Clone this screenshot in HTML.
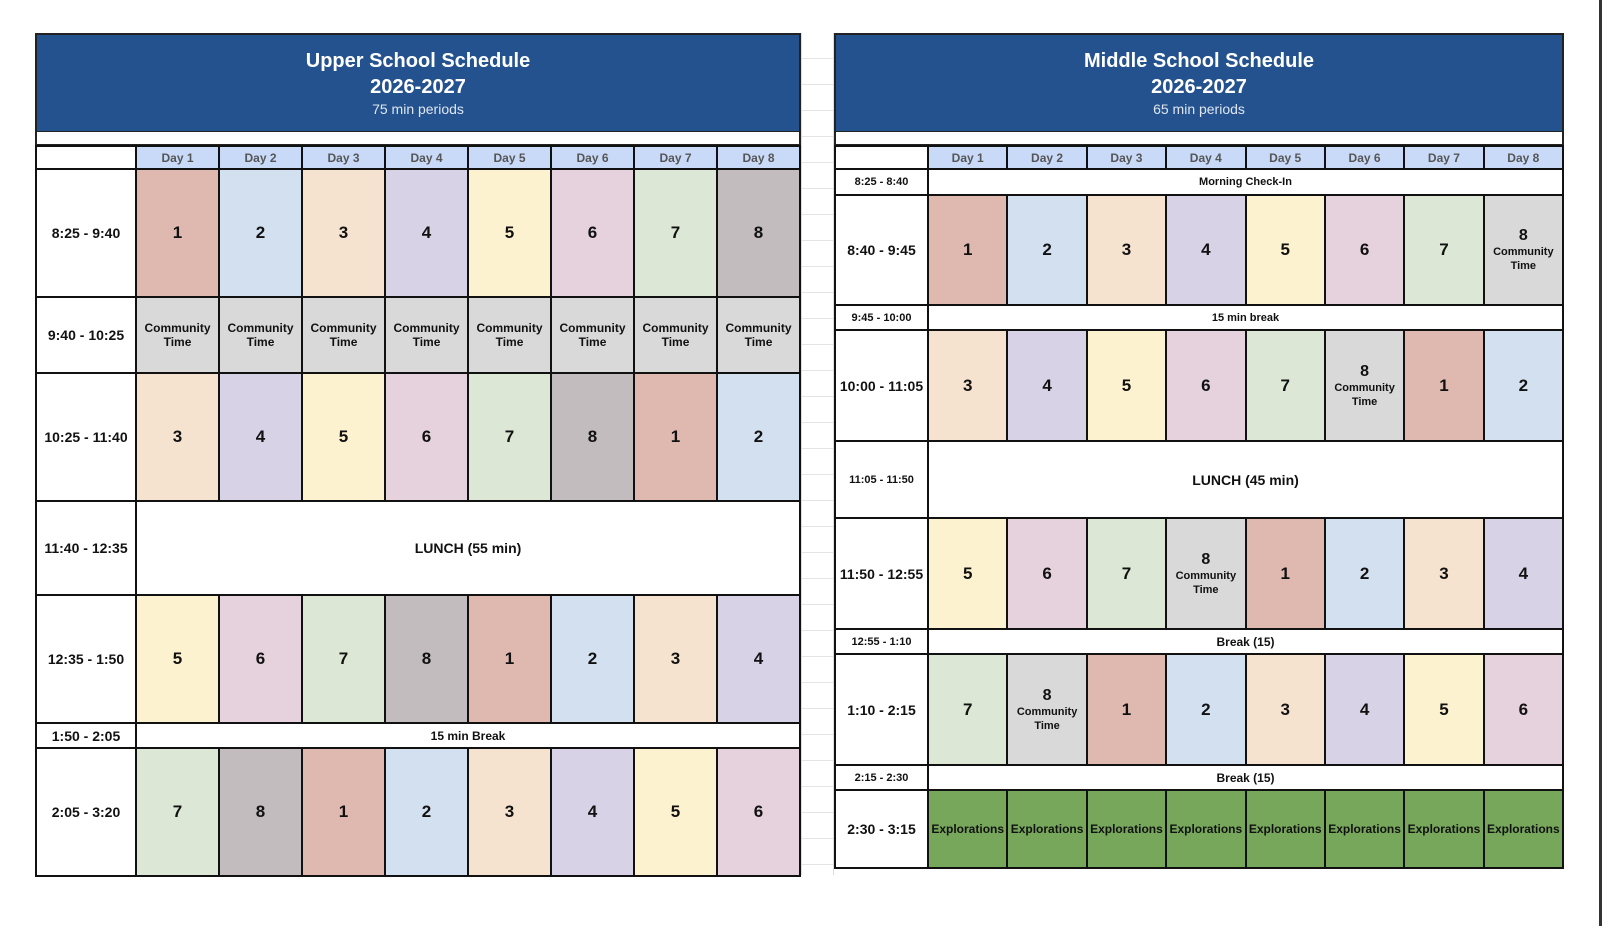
<!DOCTYPE html>
<html><head><meta charset="utf-8"><style>
*{box-sizing:border-box;margin:0;padding:0}
body{width:1602px;height:926px;background:#fff;position:relative;overflow:hidden;font-family:"Liberation Sans",Arial,sans-serif}
.gap{position:absolute;left:801px;top:33px;width:33px;height:842px;background:repeating-linear-gradient(to bottom,#fff 0,#fff 25px,#e4e4e4 25px,#e4e4e4 26px);border-left:1px solid #ddd;border-right:1px solid #ddd}
.hdr{position:absolute;top:33px;height:100px;background:#24528f;border:2px solid #222;color:#fff;text-align:center}
.hdr .t{font-weight:bold;font-size:20px;line-height:26px;margin-top:13px}
.hdr .s{font-size:14px;line-height:18px;color:#dfe6f0}
.strip{position:absolute;top:132px;height:14px;border:2px solid #222;border-top:none;background:#fff}
table{position:absolute;border-collapse:collapse;table-layout:fixed}
td{border:2px solid #111;text-align:center;vertical-align:middle;font-weight:bold;color:#111;padding:0}
td.d{background:#c9daf8;color:#555;font-size:12px}
td.tm{font-size:14px;background:#fff}
td.sm{font-size:11px}
td.n{font-size:17px}
td.ct{font-size:12px;line-height:14px}
td.w{background:#fff;font-size:14px}
td.ws{background:#fff;font-size:12px}
.r{background:#dfb9b0}.b{background:#d3e0f0}.p{background:#f6e3cf}.l{background:#d8d2e6}.y{background:#fdf2cf}.k{background:#e6d2dd}.g{background:#dce8d5}.e{background:#c2bcbf}.c{background:#d9d9d9}.x{background:#77a75b;font-size:12px}
.cc{font-size:11px;line-height:14px}
.cc b{font-size:16px;display:block;line-height:18px}
</style></head><body>
<div class="gap"></div>

<div class="hdr" style="left:35px;width:766px"><div class="t">Upper School Schedule<br>2026-2027</div><div class="s">75 min periods</div></div>
<div class="strip" style="left:35px;width:766px"></div>
<table style="left:35px;top:145px;width:766px">
<colgroup><col style="width:100px"><col span="8"></colgroup>
<tr style="height:23px"><td style="background:#fff"></td><td class="d">Day 1</td><td class="d">Day 2</td><td class="d">Day 3</td><td class="d">Day 4</td><td class="d">Day 5</td><td class="d">Day 6</td><td class="d">Day 7</td><td class="d">Day 8</td></tr>
<tr style="height:128px"><td class="tm">8:25 - 9:40</td><td class="n r">1</td><td class="n b">2</td><td class="n p">3</td><td class="n l">4</td><td class="n y">5</td><td class="n k">6</td><td class="n g">7</td><td class="n e">8</td></tr>
<tr style="height:76px"><td class="tm">9:40 - 10:25</td><td class="ct c">Community<br>Time</td><td class="ct c">Community<br>Time</td><td class="ct c">Community<br>Time</td><td class="ct c">Community<br>Time</td><td class="ct c">Community<br>Time</td><td class="ct c">Community<br>Time</td><td class="ct c">Community<br>Time</td><td class="ct c">Community<br>Time</td></tr>
<tr style="height:128px"><td class="tm">10:25 - 11:40</td><td class="n p">3</td><td class="n l">4</td><td class="n y">5</td><td class="n k">6</td><td class="n g">7</td><td class="n e">8</td><td class="n r">1</td><td class="n b">2</td></tr>
<tr style="height:94px"><td class="tm">11:40 - 12:35</td><td class="w" colspan="8">LUNCH (55 min)</td></tr>
<tr style="height:128px"><td class="tm">12:35 - 1:50</td><td class="n y">5</td><td class="n k">6</td><td class="n g">7</td><td class="n e">8</td><td class="n r">1</td><td class="n b">2</td><td class="n p">3</td><td class="n l">4</td></tr>
<tr style="height:25px"><td class="tm">1:50 - 2:05</td><td class="ws" colspan="8">15 min Break</td></tr>
<tr style="height:128px"><td class="tm">2:05 - 3:20</td><td class="n g">7</td><td class="n e">8</td><td class="n r">1</td><td class="n b">2</td><td class="n p">3</td><td class="n l">4</td><td class="n y">5</td><td class="n k">6</td></tr>
</table>

<div class="hdr" style="left:834px;width:730px"><div class="t">Middle School Schedule<br>2026-2027</div><div class="s">65 min periods</div></div>
<div class="strip" style="left:834px;width:730px"></div>
<table style="left:834px;top:145px;width:730px">
<colgroup><col style="width:93px"><col span="8"></colgroup>
<tr style="height:23px"><td style="background:#fff"></td><td class="d">Day 1</td><td class="d">Day 2</td><td class="d">Day 3</td><td class="d">Day 4</td><td class="d">Day 5</td><td class="d">Day 6</td><td class="d">Day 7</td><td class="d">Day 8</td></tr>
<tr style="height:26px"><td class="sm">8:25 - 8:40</td><td class="ws" colspan="8" style="font-size:11px">Morning Check-In</td></tr>
<tr style="height:110px"><td class="tm">8:40 - 9:45</td><td class="n r">1</td><td class="n b">2</td><td class="n p">3</td><td class="n l">4</td><td class="n y">5</td><td class="n k">6</td><td class="n g">7</td><td class="cc c"><b>8</b>Community<br>Time</td></tr>
<tr style="height:25px"><td class="sm">9:45 - 10:00</td><td class="ws" colspan="8" style="font-size:11px">15 min break</td></tr>
<tr style="height:111px"><td class="tm">10:00 - 11:05</td><td class="n p">3</td><td class="n l">4</td><td class="n y">5</td><td class="n k">6</td><td class="n g">7</td><td class="cc c"><b>8</b>Community<br>Time</td><td class="n r">1</td><td class="n b">2</td></tr>
<tr style="height:77px"><td class="sm">11:05 - 11:50</td><td class="w" colspan="8">LUNCH (45 min)</td></tr>
<tr style="height:111px"><td class="tm">11:50 - 12:55</td><td class="n y">5</td><td class="n k">6</td><td class="n g">7</td><td class="cc c"><b>8</b>Community<br>Time</td><td class="n r">1</td><td class="n b">2</td><td class="n p">3</td><td class="n l">4</td></tr>
<tr style="height:25px"><td class="sm">12:55 - 1:10</td><td class="ws" colspan="8">Break (15)</td></tr>
<tr style="height:111px"><td class="tm">1:10 - 2:15</td><td class="n g">7</td><td class="cc c"><b>8</b>Community<br>Time</td><td class="n r">1</td><td class="n b">2</td><td class="n p">3</td><td class="n l">4</td><td class="n y">5</td><td class="n k">6</td></tr>
<tr style="height:25px"><td class="sm">2:15 - 2:30</td><td class="ws" colspan="8">Break (15)</td></tr>
<tr style="height:78px"><td class="tm">2:30 - 3:15</td><td class="x">Explorations</td><td class="x">Explorations</td><td class="x">Explorations</td><td class="x">Explorations</td><td class="x">Explorations</td><td class="x">Explorations</td><td class="x">Explorations</td><td class="x">Explorations</td></tr>
</table>
<div style="position:absolute;left:1599px;top:0;width:3px;height:926px;background:#333"></div>
</body></html>
